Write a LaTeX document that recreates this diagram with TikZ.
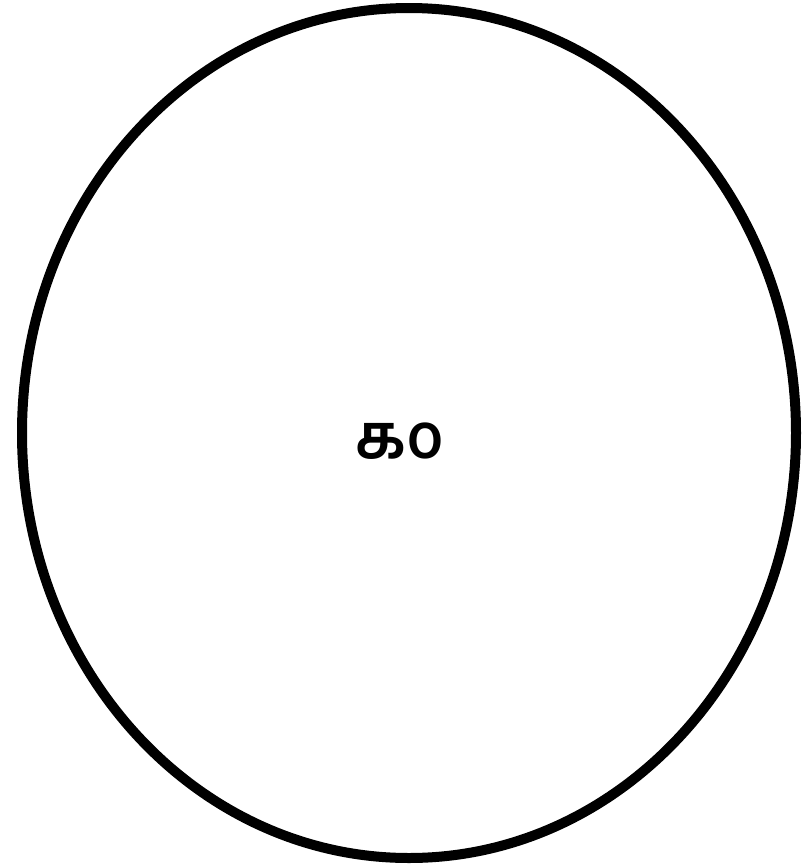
\documentclass[tikz,border=0pt]{standalone}
\usepackage{fontspec}
\newfontfamily\tamilfont[Script=Tamil]{Hind Madurai SemiBold}
\usetikzlibrary{positioning}

\begin{document}
\begin{tikzpicture}[x=1pt, y=-1pt,
  rim/.style={draw=black, line width=10pt},
  num/.style={font=\tamilfont\fontsize{62}{62}\selectfont, inner sep=0pt}
]
\useasboundingbox (0,0) rectangle (804,868);
% outer ring
\draw[rim] (409,433) ellipse [x radius=387, y radius=425];
% centre label
\node[num] (lbl) at (400,441) {௧௦};
\end{tikzpicture}
\end{document}
